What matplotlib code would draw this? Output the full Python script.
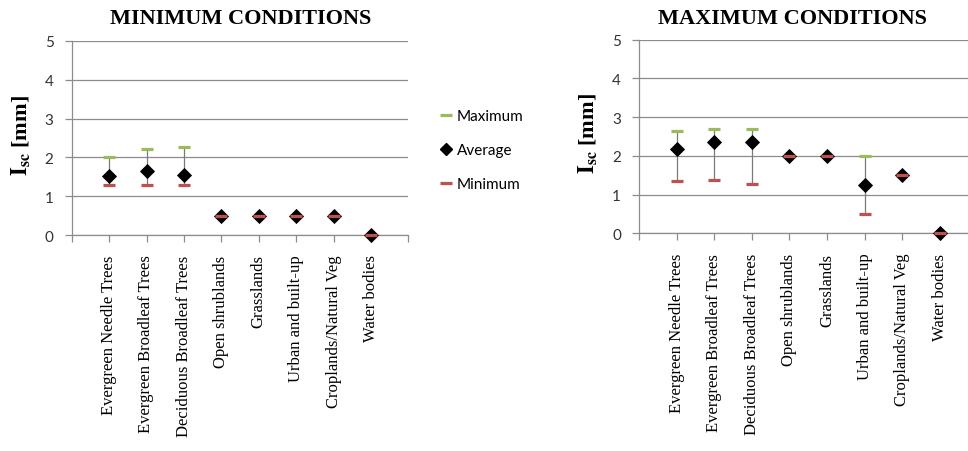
import numpy as np
import matplotlib
matplotlib.use("Agg")
import matplotlib.pyplot as plt
from matplotlib.lines import Line2D
from matplotlib.ticker import FixedLocator

plt.rcParams['mathtext.fontset'] = 'stix'

categories = ['Evergreen Needle Trees', 'Evergreen Broadleaf Trees',
              'Deciduous Broadleaf Trees', 'Open shrublands', 'Grasslands',
              'Urban and built-up', 'Croplands/Natural Veg', 'Water bodies']

# Isc [mm] under minimum conditions
min_cond_max = [2.02, 2.22, 2.26, 0.5, 0.5, 0.5, 0.5, 0.0]
min_cond_avg = [1.51, 1.65, 1.55, 0.5, 0.5, 0.5, 0.5, 0.0]
min_cond_min = [1.30, 1.30, 1.30, 0.5, 0.5, 0.5, 0.5, 0.0]

# Isc [mm] under maximum conditions
max_cond_max = [2.65, 2.70, 2.70, 2.0, 2.0, 2.0, 1.5, 0.0]
max_cond_avg = [2.18, 2.36, 2.36, 2.0, 2.0, 1.26, 1.5, 0.0]
max_cond_min = [1.35, 1.37, 1.28, 2.0, 2.0, 0.5, 1.5, 0.0]

green = '#9BBB59'
red = '#C0504D'
grid_col = '#8c8c8c'
tick_font = 'Lato'

fig = plt.figure(figsize=(9.68, 4.52), dpi=100)

W, H = 968.0, 452.0
ax1 = fig.add_axes([71.7 / W, 1 - 236 / H, 336.6 / W, 194 / H])
ax2 = fig.add_axes([639 / W, 1 - 234.3 / H, 338.4 / W, 193.6 / H])


def draw_panel(ax, vmax, vavg, vmin):
    x = np.arange(1, len(categories) + 1)
    ax.vlines(x, vmin, vmax, color='#7a7a7a', lw=0.9, zorder=2)
    ax.plot(x, vmax, ls='none', marker='_', ms=8, mew=2.3, color=green, zorder=3)
    ax.plot(x, vavg, ls='none', marker='D', ms=7.3, mew=0.6,
            color='black', zorder=4, clip_on=False)
    ax.plot(x, vmin, ls='none', marker='_', ms=8, mew=2.3, color=red,
            zorder=5, clip_on=False)

    ax.set_xlim(0, 9)
    ax.set_ylim(0, 5)
    ax.set_yticks(range(6))
    ax.yaxis.grid(True, color=grid_col, lw=0.9)
    ax.set_axisbelow(True)
    for s in ['top', 'right']:
        ax.spines[s].set_visible(False)
    for s in ['left', 'bottom']:
        ax.spines[s].set_color(grid_col)
        ax.spines[s].set_linewidth(0.9)

    ax.set_xticks(x)
    ax.set_xticklabels(categories, rotation=90, fontsize=12,
                       family='Liberation Serif', color='black')
    ax.xaxis.set_minor_locator(FixedLocator([0, 9]))
    ax.tick_params(axis='x', which='both', length=5, width=0.9,
                   color=grid_col, pad=9)
    ax.tick_params(axis='y', length=5, width=0.9, color=grid_col, pad=8,
                   labelsize=11, labelcolor='#333333')
    for t in ax.get_yticklabels():
        t.set_family(tick_font)

    ax.set_ylabel(r'$\mathbf{I}_{\mathbf{sc}}$ [mm]', fontsize=16,
                  family='Liberation Serif', fontweight='bold', va='center')
    ax.yaxis.set_label_coords(-0.153, 0.52)


draw_panel(ax1, min_cond_max, min_cond_avg, min_cond_min)
draw_panel(ax2, max_cond_max, max_cond_avg, max_cond_min)

fig.text(241 / W, 1 - 19 / H, 'MINIMUM CONDITIONS', ha='center', va='center',
         family='Liberation Serif', fontweight='bold', fontsize=16)
fig.text(793 / W, 1 - 19 / H, 'MAXIMUM CONDITIONS', ha='center', va='center',
         family='Liberation Serif', fontweight='bold', fontsize=16)

handles = [
    Line2D([], [], ls='none', marker='_', ms=8, mew=2.3, color=green),
    Line2D([], [], ls='none', marker='D', ms=6, color='black'),
    Line2D([], [], ls='none', marker='_', ms=8, mew=2.3, color=red),
]
fig.legend(handles, ['Maximum', 'Average', 'Minimum'],
           loc='center left', bbox_to_anchor=(428 / W, 1 - 151 / H),
           frameon=False, handlelength=0.6, handletextpad=0.4,
           labelspacing=1.3, prop={'family': tick_font, 'size': 11})

fig.savefig('out.png', dpi=100)
